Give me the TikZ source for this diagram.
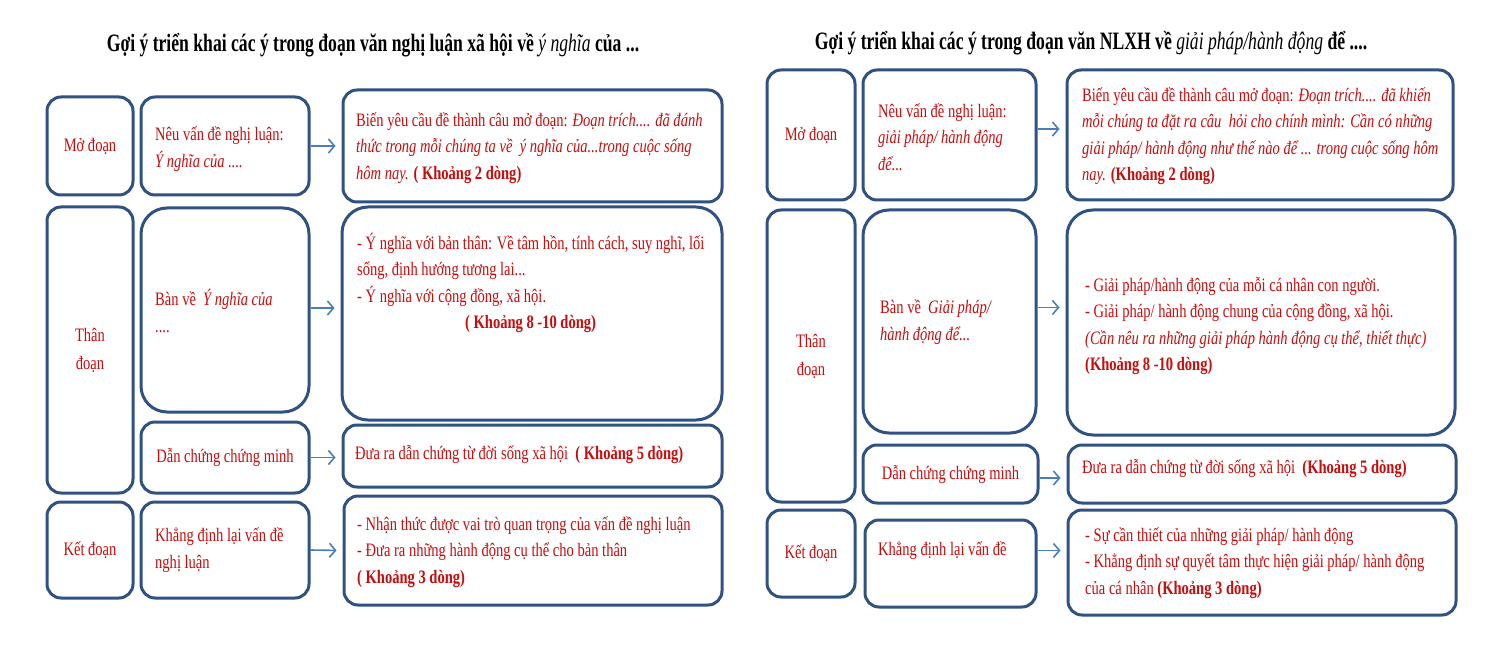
\documentclass[tikz,border=0pt]{standalone}
\usepackage{fontspec}
\setmainfont{Liberation Serif}[FakeStretch=0.765]
\newfontfamily\titlefont{Liberation Serif}[FakeStretch=0.705]
\usetikzlibrary{arrows.meta}
\definecolor{boxblue}{RGB}{47,82,130}
\definecolor{arrblue}{RGB}{74,126,187}
\definecolor{txtred}{RGB}{200,12,12}
\tikzset{
  box/.style={draw=boxblue, line width=3pt, rounded corners=14pt, fill=white, inner sep=0pt, text=txtred, align=center, font=\fontsize{19}{28}\selectfont},
  bigbox/.style={box, rounded corners=26pt},
  txt/.style={anchor=west, align=left, inner sep=0pt, text=txtred, font=\fontsize{19}{26.5}\selectfont},
  arr/.style={draw=arrblue, line width=1.6pt, -{Straight Barb[length=6pt,width=14pt,line width=1.6pt]}, shorten >=6pt},
  ttl/.style={inner sep=0pt, font=\titlefont\fontsize{25}{30}\selectfont\bfseries}
}
\begin{document}
\begin{tikzpicture}[x=1pt,y=-1pt]
\useasboundingbox (0,0) rectangle (1500,660);
% titles
\node[ttl] (t1) at (373,45) {Gợi ý triển khai các ý trong đoạn văn nghị luận xã hội về {\mdseries\itshape ý nghĩa} của ...};
\node[ttl] (t2) at (1091,43) {Gợi ý triển khai các ý trong đoạn văn NLXH về {\mdseries\itshape giải pháp/hành động} để ....};

% ---------- left panel ----------
\node[box, minimum width=86pt, minimum height=98pt] (lmo) at (90,146) {Mở đoạn};
\node[box, minimum width=168pt, minimum height=98pt] (lneu) at (225,146) {};
\node[box, minimum width=379pt, minimum height=112pt] (lr1) at (532.5,146) {};
\node[box, minimum width=86pt, minimum height=286pt] (lthan) at (90,350) {Thân\\đoạn};
\node[bigbox, minimum width=168pt, minimum height=204pt] (lban) at (225,310) {};
\node[bigbox, minimum width=380pt, minimum height=213pt] (lr2) at (532,313.5) {};
\node[box, minimum width=168pt, minimum height=71pt] (ldan) at (225,457.5) {Dẫn chứng chứng minh};
\node[box, minimum width=379pt, minimum height=62pt] (lr3) at (532.5,456) {};
\node[box, minimum width=86pt, minimum height=96pt] (lket) at (90,550) {Kết đoạn};
\node[box, minimum width=168pt, minimum height=96pt] (lkh) at (225,550) {};
\node[box, minimum width=378pt, minimum height=109pt] (lr4) at (533,550.5) {};

\node[txt] (lneuT) at (155,149) {Nêu vấn đề nghị luận:\\\textit{Ý nghĩa của ....}};
\node[txt] (lr1T) at (356,148) {Biến yêu cầu đề thành câu mở đoạn: \textit{Đoạn trích.... đã đánh}\\\textit{thức trong mỗi chúng ta về\ \ ý nghĩa của...trong cuộc sống}\\\textit{hôm nay.} \textbf{( Khoảng 2 dòng)}};
\node[txt] (lbanT) at (155,311) {Bàn về\ \ \textit{Ý nghĩa của}\\....};
\node[txt] (lr2T) at (357,283) {- Ý nghĩa với bản thân: Về tâm hồn, tính cách, suy nghĩ, lối\\sống, định hướng tương lai...\\- Ý nghĩa với cộng đồng, xã hội.\\\hspace*{108pt}\textbf{( Khoảng 8 -10 dòng)}};
\node[txt] (lr3T) at (355,455) {Đưa ra dẫn chứng từ đời sống xã hội\ \ \textbf{( Khoảng 5 dòng)}};
\node[txt] (lkhT) at (155,550) {Khẳng định lại vấn đề\\nghị luận};
\node[txt] (lr4T) at (357,552) {- Nhận thức được vai trò quan trọng của vấn đề nghị luận\\- Đưa ra những hành động cụ thể cho bản thân\\\textbf{( Khoảng 3 dòng)}};

\draw[arr] (lneu.east) -- (lr1.west);
\draw[arr] ([yshift=2pt]lban.east) -- ([yshift=2pt]lban.east -| lr2.west);
\draw[arr] (ldan.east) -- (ldan.east -| lr3.west);
\draw[arr] (lkh.east) -- (lr4.west);

% ---------- right panel ----------
\node[box, minimum width=88pt, minimum height=130pt] (rmo) at (811,135) {Mở đoạn};
\node[box, minimum width=173pt, minimum height=130pt] (rneu) at (949.5,135) {};
\node[box, minimum width=386pt, minimum height=130pt] (rr1) at (1260,135) {};
\node[box, minimum width=88pt, minimum height=292pt] (rthan) at (811,356) {Thân\\đoạn};
\node[bigbox, minimum width=173pt, minimum height=223pt] (rban) at (949.5,321.5) {};
\node[bigbox, minimum width=388pt, minimum height=225pt] (rr2) at (1261,322.5) {};
\node[box, minimum width=175pt, minimum height=58pt] (rdan) at (950.5,474) {Dẫn chứng chứng minh};
\node[box, minimum width=388pt, minimum height=58pt] (rr3) at (1262,474) {};
\node[box, minimum width=88pt, minimum height=87pt] (rket) at (811,553.5) {Kết đoạn};
\node[box, minimum width=171pt, minimum height=87pt] (rkh) at (950.5,563.5) {};
\node[box, minimum width=388pt, minimum height=105pt] (rr4) at (1262,562.5) {};

\node[txt] (rneuT) at (878,137) {Nêu vấn đề nghị luận:\\\textit{giải pháp/ hành động}\\\textit{để...}};
\node[txt] (rr1T) at (1082,136) {Biến yêu cầu đề thành câu mở đoạn: \textit{Đoạn trích.... đã khiến}\\\textit{mỗi chúng ta đặt ra câu\ \ hỏi cho chính mình: Cần có những}\\\textit{giải pháp/ hành động như thế nào để ... trong cuộc sống hôm}\\\textit{nay.} \textbf{(Khoảng 2 dòng)}};
\node[txt] (rbanT) at (880,322) {Bàn về\ \ \textit{Giải pháp/}\\\textit{hành động để...}};
\node[txt] (rr2T) at (1085,326) {- Giải pháp/hành động của mỗi cá nhân con người.\\- Giải pháp/ hành động chung của cộng đồng, xã hội.\\\textit{(Cần nêu ra những giải pháp hành động cụ thể, thiết thực)}\\\textbf{(Khoảng 8 -10 dòng)}};
\node[txt] (rr3T) at (1082,469) {Đưa ra dẫn chứng từ đời sống xã hội\ \ \textbf{(Khoảng 5 dòng)}};
\node[txt] (rkhT) at (878,551) {Khẳng định lại vấn đề};
\node[txt] (rr4T) at (1085,563) {- Sự cần thiết của những giải pháp/ hành động\\- Khẳng định sự quyết tâm thực hiện giải pháp/ hành động\\của cá nhân \textbf{(Khoảng 3 dòng)}};

\draw[arr] ([yshift=6pt]rneu.east) -- ([yshift=6pt]rneu.east -| rr1.west);
\draw[arr] ([yshift=14pt]rban.east) -- ([yshift=14pt]rban.east -| rr2.west);
\draw[arr] ([yshift=-4pt]rdan.east) -- ([yshift=-4pt]rdan.east -| rr3.west);
\draw[arr] ([yshift=13pt]rkh.east) -- ([yshift=13pt]rkh.east -| rr4.west);
\end{tikzpicture}
\end{document}
